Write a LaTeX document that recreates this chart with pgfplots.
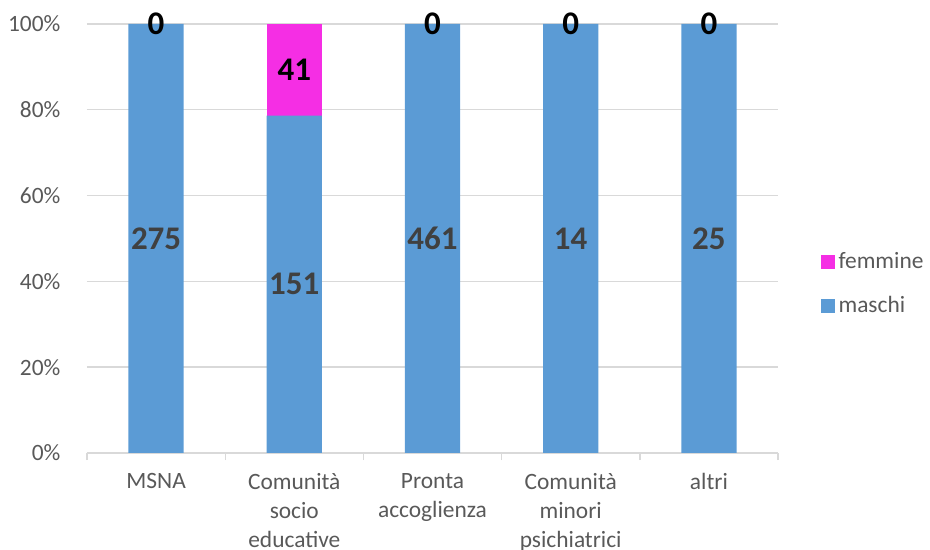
\documentclass[border=0pt]{standalone}
\usepackage{fontspec}
\setmainfont{Carlito}
\usepackage{pgfplots}
\pgfplotsset{compat=1.18}
\definecolor{maschi}{HTML}{5B9BD5}
\definecolor{femmine}{HTML}{F52EE4}
\definecolor{txt}{HTML}{595959}
\definecolor{grd}{HTML}{D9D9D9}
\definecolor{lbl}{HTML}{404040}
\tikzset{barlbl/.style={font=\fontsize{16.5}{19}\selectfont\bfseries}}
\begin{document}
\begin{tikzpicture}
\begin{axis}[
  scale only axis, width=345.5pt, height=214.5pt,
  ybar stacked, bar width=0.4,
  xmin=-0.5, xmax=4.5, ymin=0, ymax=100,
  clip=false,
  axis x line*=bottom, axis y line*=left,
  x axis line style={draw=grd, line width=0.7pt},
  y axis line style={draw=none},
  xtick={0,1,2,3,4},
  xticklabels={MSNA,{Comunità\\socio\\educative},{Pronta\\accoglienza},{Comunità\\minori\\psichiatrici},altri},
  xticklabel style={align=center, text=txt, font=\fontsize{11.7}{14.5}\selectfont, anchor=north, yshift=-2.5pt},
  major x tick style={draw=none},
  minor xtick={-0.5,0.5,1.5,2.5,3.5,4.5},
  minor x tick style={draw=grd, line width=0.7pt},
  minor tick length=3.5pt,
  tick align=outside,
  ytick={0,20,...,100},
  yticklabel={\pgfmathprintnumber{\tick}\%},
  yticklabel style={text=txt, font=\fontsize{11.7}{14}\selectfont, xshift=-5.5pt},
  major y tick style={draw=none},
  /pgf/number format/assume math mode=true,
  ymajorgrids, grid style={draw=grd, line width=0.7pt},
  reverse legend,
  legend style={at={(1.061,0.394)}, anchor=west, draw=none, fill=none,
    font=\fontsize{11.7}{14}\selectfont, text=txt, row sep=8pt, inner sep=0pt},
  legend cell align=left,
  point meta=explicit symbolic,
  nodes near coords,
  % stacked bars put the label at the middle of its segment
  every node near coord/.append style={anchor=center, barlbl},
]
% maschi: share of the category in percent, count as label
\addplot[fill=maschi, draw=none,
  every node near coord/.append style={text=lbl},
  legend image code/.code={\fill[maschi] (-1pt,-3.5pt) rectangle (6pt,3.5pt);}]
  table[x=x, y=p, meta=n] {
x p n
0 100 275
1 78.65 151
2 100 461
3 100 14
4 100 25
};
\addlegendentry{maschi}
% femmine
\addplot[fill=femmine, draw=none,
  every node near coord/.append style={text=black},
  legend image code/.code={\fill[femmine] (-1pt,-3.5pt) rectangle (6pt,3.5pt);}]
  table[x=x, y=p, meta=n] {
x p n
0 0 0
1 21.35 41
2 0 0
3 0 0
4 0 0
};
\addlegendentry{femmine}
\end{axis}
% zero-height femmine segments get no label from the stacked plot: set them here
\begin{axis}[
  scale only axis, width=345.5pt, height=214.5pt,
  xmin=-0.5, xmax=4.5, ymin=0, ymax=100,
  hide axis, clip=false,
]
\addplot[only marks, mark=*, mark size=0pt, mark options={draw=none, fill=none},
  point meta=explicit symbolic, nodes near coords,
  every node near coord/.append style={anchor=center, text=black, barlbl}]
  table[x=x, y=top, meta=n] {
x top n
0 100 0
2 100 0
3 100 0
4 100 0
};
\end{axis}
\pgfresetboundingbox
\path[use as bounding box] ([shift={(-43.5pt,-48.5pt)}]current axis.south west) rectangle ([shift={(76pt,12pt)}]current axis.north east);
\end{tikzpicture}
\end{document}
